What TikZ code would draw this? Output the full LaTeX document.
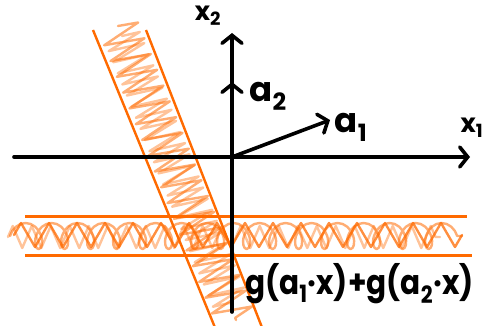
\documentclass[tikz,border=0pt]{standalone}
\usepackage{fontspec}
\setmainfont{Poppins}
\usetikzlibrary{arrows.meta,decorations.pathmorphing}
\definecolor{org}{HTML}{FF6A00}
\tikzset{
  axis/.style={line width=3.6pt, line cap=round, -{Straight Barb[length=8pt,width=20pt,line cap=round]}},
  band/.style={org, line width=3pt},
  scrib/.style={org, line width=2.4pt, opacity=0.55, line join=round, line cap=round},
  lbl/.style={inner sep=0pt, font=\fontsize{34}{34}\bfseries\selectfont},
}
\begin{document}
\begin{tikzpicture}[x=1pt,y=-1pt]
\useasboundingbox (0,0) rectangle (490,326);
\clip (0,0) rectangle (490,326);
% horizontal band scribble
\draw[scrib, decoration={coil, amplitude=13pt, segment length=26pt, aspect=0.7}, decorate] (10,236) -- (462,236);
\draw[scrib, opacity=0.75, decoration={zigzag, amplitude=12pt, segment length=28pt}, decorate] (14,235) -- (462,235);
\draw[scrib, opacity=0.4, decoration={zigzag, amplitude=11pt, segment length=19pt}, decorate] (8,237) -- (440,237);
% diagonal band scribble
\draw[scrib, decoration={zigzag, amplitude=20pt, segment length=17pt}, decorate] (118,26) -- (236,320);
\draw[scrib, opacity=0.4, decoration={zigzag, amplitude=18pt, segment length=12pt}, decorate] (122,36) -- (232,306);
% band edges
\coordinate (h1a) at (25,216); \coordinate (h1b) at (467,216);
\coordinate (h2a) at (25,255); \coordinate (h2b) at (472,255);
\coordinate (d1a) at (93,30);  \coordinate (d1b) at (216,330);
\coordinate (d2a) at (146,30); \coordinate (d2b) at (263,330);
\draw[band] (h1a) -- (h1b);
\draw[band] (h2a) -- (h2b);
\draw[band, line width=2.4pt] (d1a) -- (d1b);
\draw[band, line width=2.4pt] (d2a) -- (d2b);
% axes
\coordinate (O) at (232,157);
\coordinate (xl) at (14,157);
\coordinate (xr) at (470,157);
\coordinate (yb) at (232,312);
\coordinate (yt) at (232,33);
\coordinate (a2) at (232,82);
\coordinate (a1) at (330,120);
\draw[axis] (xl) -- (xr);
\draw[axis] (yb) -- (yt);
\draw[axis] (O) -- (a2);
\draw[axis] (O) -- (a1);
% labels
\node[lbl, font=\fontsize{26}{26}\bfseries\selectfont] (lx2) at (208,16) {x\textsubscript{2}};
\node[lbl, font=\fontsize{26}{26}\bfseries\selectfont] (lx1) at (472,128) {x\textsubscript{1}};
\node[lbl] (la2) at (268,96) {a\textsubscript{2}};
\node[lbl] (la1) at (351,127) {a\textsubscript{1}};
\node[lbl, anchor=base west] (g) at (245,294) {\scalebox{0.87}[1]{g(a\textsubscript{1}·x)+g(a\textsubscript{2}·x)}};
\end{tikzpicture}
\end{document}
